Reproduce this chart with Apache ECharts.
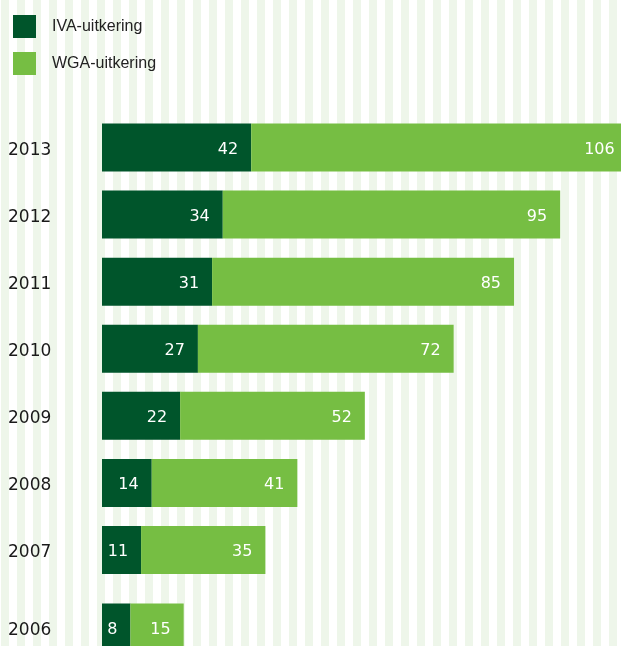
<!DOCTYPE html>
<html>
<head>
<meta charset="utf-8">
<script src="https://cdn.jsdelivr.net/npm/echarts@6/dist/echarts.min.js"></script>
<style>
html, body { margin: 0; padding: 0; }
body {
  width: 621px; height: 646px; overflow: hidden;
  background: repeating-linear-gradient(to right, #eef6ea 0px, #eef6ea 8px, #ffffff 8px, #ffffff 16px);
  background-position: 1px 0;
}
#chart { width: 621px; height: 646px; }
</style>
</head>
<body>
<div id="chart"></div>
<script>
const years = ['2013', '2012', '2011', '2010', '2009', '2008', '2007', '2006'];
const ivaValues = [42, 34, 31, 27, 22, 14, 11, 8];
const wgaValues = [106, 95, 85, 72, 52, 41, 35, 15];
const seriesNames = ['IVA-uitkering', 'WGA-uitkering'];

const DARK = '#00552b';
const LIGHT = '#76be43';
const SPLIT = 7; // 2013..2007 in the first block, 2006 in a separate block

const chart = echarts.init(document.getElementById('chart'), null, { renderer: 'canvas' });

const band = 67.08;
const xMax = 150;
const plotWidth = 150 * 3.552;

function xAxis(i) {
  return { type: 'value', gridIndex: i, min: 0, max: xMax, show: false };
}
function yAxis(i, cats) {
  return {
    type: 'category', gridIndex: i, data: cats, inverse: true,
    axisLine: { show: false }, axisTick: { show: false }, splitLine: { show: false },
    axisLabel: {
      align: 'left', margin: 94,
      formatter: '{y|{value}}',
      rich: {
        y: { color: '#1a1a1a', fontFamily: 'DejaVu Sans', fontSize: 17, padding: [6, 0, 0, 0] }
      }
    }
  };
}
const labelStyle = {
  show: true, position: 'insideRight', distance: 13, offset: [0, 2],
  color: '#ffffff', fontFamily: 'DejaVu Sans', fontSize: 16
};
function series(name, data, color, gi) {
  return {
    name: name, type: 'bar', stack: 'total' + gi,
    xAxisIndex: gi, yAxisIndex: gi,
    data: data, barWidth: 48,
    itemStyle: { color: color },
    label: labelStyle,
    emphasis: { disabled: true }
  };
}

chart.setOption({
  backgroundColor: 'transparent',
  animation: false,
  legend: {
    data: seriesNames,
    orient: 'vertical', left: 8, top: 10,
    itemWidth: 23, itemHeight: 23, itemGap: 14,
    icon: 'rect',
    textStyle: { color: '#222222', fontFamily: 'Liberation Sans', fontSize: 16, padding: [4, 0, 0, 11] }
  },
  grid: [
    { left: 102, top: 147.5 - band / 2, width: plotWidth, height: band * SPLIT, outerBoundsMode: 'none', containLabel: false },
    { left: 102, top: 627.5 - band / 2, width: plotWidth, height: band, outerBoundsMode: 'none', containLabel: false }
  ],
  xAxis: [xAxis(0), xAxis(1)],
  yAxis: [yAxis(0, years.slice(0, SPLIT)), yAxis(1, years.slice(SPLIT))],
  series: [
    series(seriesNames[0], ivaValues.slice(0, SPLIT), DARK, 0),
    series(seriesNames[1], wgaValues.slice(0, SPLIT), LIGHT, 0),
    series(seriesNames[0], ivaValues.slice(SPLIT), DARK, 1),
    series(seriesNames[1], wgaValues.slice(SPLIT), LIGHT, 1)
  ]
});
</script>
</body>
</html>
